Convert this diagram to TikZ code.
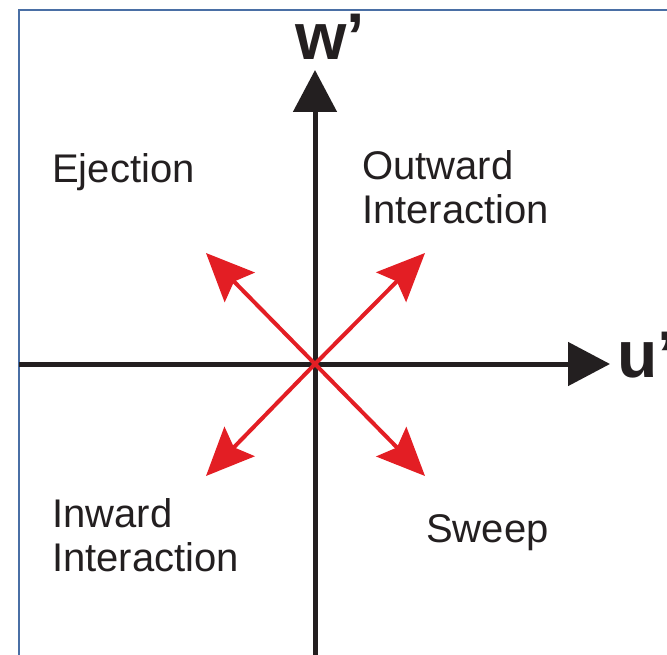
\documentclass[tikz,border=0pt]{standalone}
\usepackage{fontspec}
\setmainfont{Liberation Sans}
\usetikzlibrary{arrows.meta}
\definecolor{axisc}{HTML}{231F20}
\definecolor{redc}{HTML}{E31E24}
\definecolor{framec}{HTML}{4A6FA5}
\begin{document}
\begin{tikzpicture}[x=1pt,y=-1pt,
  axisline/.style={draw=axisc, line width=5pt, -{Triangle[length=42pt,width=43pt]}},
  redarrow/.style={draw=redc, line width=4pt, -{Stealth[length=48pt,width=42pt,inset=8pt]}},
  lab/.style={text=axisc, inner sep=0pt, font=\fontsize{40}{44}\selectfont, align=left, anchor=base west},
  axlab/.style={text=axisc, inner sep=0pt, font=\fontsize{66}{70}\selectfont\bfseries, anchor=base west}]
\useasboundingbox (0,0) rectangle (667,655);
\clip (0,0) rectangle (667,655);
\draw[framec, line width=1.8pt] (19,10) rectangle (720,720);
% axes
\coordinate (o) at (315,364);
\coordinate (top) at (315,70);
\coordinate (bot) at (315,670);
\coordinate (left) at (19,364);
\coordinate (right) at (610,364);
\draw[axisline] (bot) -- (top);
\draw[axisline] (left) -- (right);
% red arrows
\coordinate (ne) at (425,253);
\coordinate (nw) at (206,253);
\coordinate (sw) at (206,476);
\coordinate (se) at (425,476);
\draw[redarrow] (o) -- (ne);
\draw[redarrow] (o) -- (nw);
\draw[redarrow] (o) -- (sw);
\draw[redarrow] (o) -- (se);
% labels
\node[axlab] (wl) at (295,60) {w’};
\node[axlab] (ul) at (617,377) {u’};
\node[lab] (ej) at (52,183) {Ejection};
\node[lab] (ow) at (362,224) {Outward\\Interaction};
\node[lab] (iw) at (52,571) {Inward\\Interaction};
\node[lab] (swl) at (426,542) {Sweep};
\end{tikzpicture}
\end{document}
